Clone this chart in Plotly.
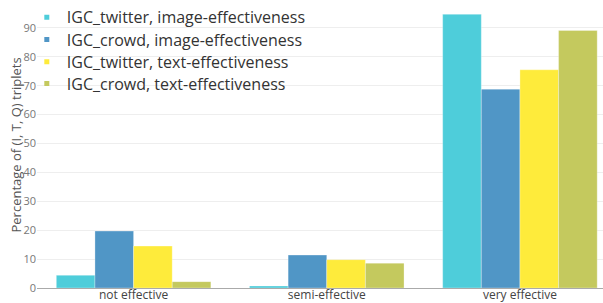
import plotly.graph_objects as go

categories = ["not effective", "semi-effective", "very effective"]
series_names = [
    "IGC_twitter, image-effectiveness",
    "IGC_crowd, image-effectiveness",
    "IGC_twitter, text-effectiveness",
    "IGC_crowd, text-effectiveness",
]
twitter_image = [4.4, 0.7, 94.7]
crowd_image = [19.7, 11.4, 68.8]
twitter_text = [14.5, 9.8, 75.5]
crowd_text = [2.2, 8.6, 89.1]
colors = ["rgb(78,205,218)", "rgb(80,150,198)", "rgb(254,235,59)", "rgb(196,201,94)"]
y_ticks = [0, 10, 20, 30, 40, 50, 60, 70, 80, 90]
y_title = "Percentage of (I, T, Q) triplets"

series = [twitter_image, crowd_image, twitter_text, crowd_text]
legend_ids = ["legend", "legend2", "legend3", "legend4"]
legend_centers_px = [14.5, 37, 59.5, 81.5]
plot_h = 288

fig = go.Figure()
for name, vals, col in zip(series_names, series, colors):
    fig.add_trace(go.Bar(
        x=categories, y=vals, name=name, showlegend=False,
        marker=dict(color=col, line=dict(color="rgba(255,255,255,0.6)", width=0.5)),
    ))
for name, col, lid in zip(series_names, colors, legend_ids):
    fig.add_trace(go.Scatter(
        x=[None], y=[None], mode="markers", name=name, legend=lid, showlegend=True,
        marker=dict(symbol="square", size=5, color=col),
    ))

legend_common = dict(xanchor="left", yanchor="middle", font=dict(size=16, color="#333"),
                     bgcolor="rgba(0,0,0,0)", itemwidth=30, borderwidth=0)
legends = {}
for lid, yc in zip(legend_ids, legend_centers_px):
    legends[lid] = dict(legend_common, x=-0.018, y=1 - yc / plot_h)

fig.update_layout(
    template="none",
    width=603, height=303,
    margin=dict(l=37, r=0, t=0, b=15, pad=0),
    paper_bgcolor="white", plot_bgcolor="white",
    font=dict(family="Open Sans", color="#444"),
    barmode="group", bargap=0.2, bargroupgap=0,
    hovermode=False,
    showlegend=True,
    xaxis=dict(range=[-0.5, 2.43], showgrid=False, zeroline=False, showline=False,
               ticks="", tickfont=dict(size=12, color="#444"), automargin=False,
               ticklabelstandoff=-2),
    yaxis=dict(range=[0, 98.6], tickvals=y_ticks, showgrid=True, gridcolor="#eeeeee",
               gridwidth=1, zeroline=True, zerolinecolor="#aaaaaa", zerolinewidth=1,
               showline=False, ticks="", tickfont=dict(size=11, color="#777"),
               automargin=False),
    annotations=[dict(text=y_title, xref="paper", yref="paper", x=0, y=0.5,
                      xshift=-22, xanchor="center", yanchor="middle", textangle=-90,
                      showarrow=False, font=dict(size=13, color="#555"))],
    **legends,
)

fig.write_html("out.html", config={"displayModeBar": False})

with open("out.html", "r", encoding="utf-8") as f:
    html = f.read()
html = html.replace("<body>", '<body style="margin:0;padding:0;overflow:hidden;">', 1)
with open("out.html", "w", encoding="utf-8") as f:
    f.write(html)
